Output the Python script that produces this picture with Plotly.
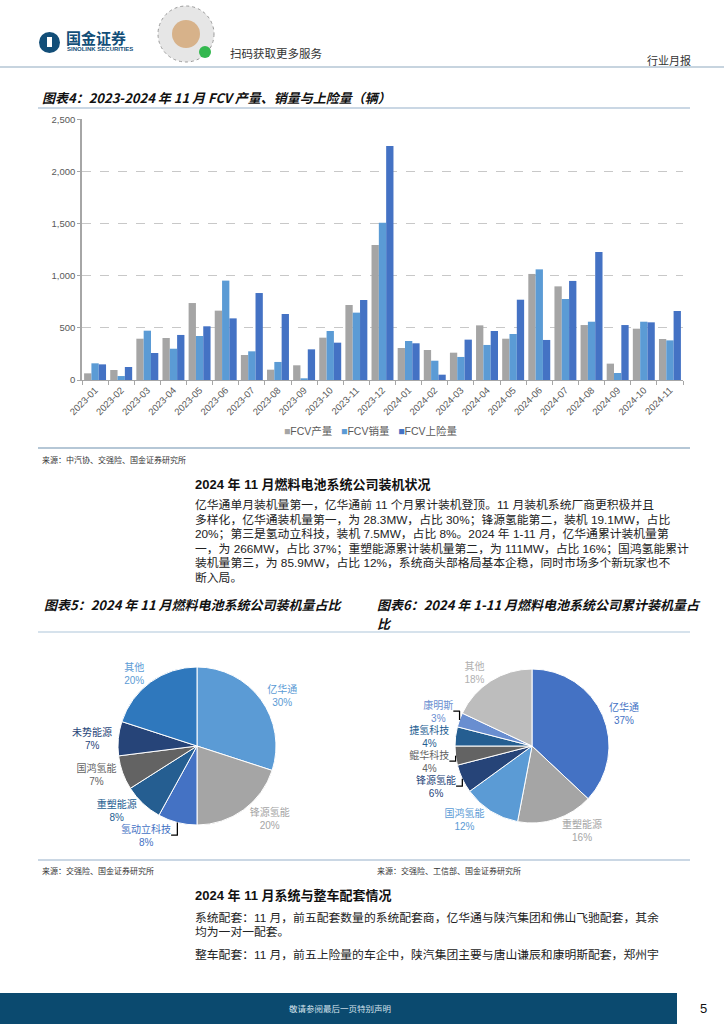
import plotly.graph_objects as go

W, H = 724, 1024


def px(x):
    return x / W


def py(y):
    return 1 - y / H


# ---------------- data ----------------
months = ['2023-01', '2023-02', '2023-03', '2023-04', '2023-05', '2023-06', '2023-07',
          '2023-08', '2023-09', '2023-10', '2023-11', '2023-12', '2024-01', '2024-02',
          '2024-03', '2024-04', '2024-05', '2024-06', '2024-07', '2024-08', '2024-09',
          '2024-10', '2024-11']
production = [64, 96, 396, 403, 738, 665, 240, 99, 141, 406, 719, 1295,
              307, 288, 262, 524, 396, 1017, 898, 527, 157, 492, 393]
sales = [160, 38, 473, 300, 422, 953, 275, 173, 10, 470, 646, 1509,
         374, 185, 221, 336, 441, 1061, 777, 559, 67, 559, 380]
insured = [150, 125, 259, 432, 515, 591, 834, 633, 294, 358, 767, 2244,
           352, 51, 387, 470, 770, 384, 950, 1228, 527, 553, 662]
series_names = ['FCV产量', 'FCV销量', 'FCV上险量']
series_colors = ['#A5A5A5', '#5B9BD5', '#4472C4']
y_ticks = [0, 500, 1000, 1500, 2000, 2500]

pie1_labels = ['亿华通', '锋源氢能', '氢动立科技', '重塑能源', '国鸿氢能', '未势能源', '其他']
pie1_values = [30, 20, 8, 8, 7, 7, 20]
pie1_colors = ['#5B9BD5', '#A5A5A5', '#4472C4', '#255E91', '#636363', '#264478', '#2F78BD']
pie1_text_colors = ['#5B9BD5', '#A5A5A5', '#4472C4', '#255E91', '#636363', '#264478', '#5B9BD5']

pie2_labels = ['亿华通', '重塑能源', '国鸿氢能', '锋源氢能', '鲲华科技', '捷氢科技', '康明斯', '其他']
pie2_values = [37, 16, 12, 6, 4, 4, 3, 18]
pie2_colors = ['#4472C4', '#A5A5A5', '#5B9BD5', '#264478', '#636363', '#255E91', '#698ED0', '#BDBDBD']
pie2_text_colors = ['#4472C4', '#A5A5A5', '#5B9BD5', '#264478', '#636363', '#255E91', '#698ED0', '#B0B0B0']

para1 = [
    '亿华通单月装机量第一，亿华通前 11 个月累计装机登顶。11 月装机系统厂商更积极并且',
    '多样化，亿华通装机量第一，为 28.3MW，占比 30%；锋源氢能第二，装机 19.1MW，占比',
    '20%；第三是氢动立科技，装机 7.5MW，占比 8%。2024 年 1-11 月，亿华通累计装机量第',
    '一，为 266MW，占比 37%；重塑能源累计装机量第二，为 111MW，占比 16%；国鸿氢能累计',
    '装机量第三，为 85.9MW，占比 12%，系统商头部格局基本企稳，同时市场多个新玩家也不',
    '断入局。',
]
para2 = [
    '系统配套：11 月，前五配套数量的系统配套商，亿华通与陕汽集团和佛山飞驰配套，其余',
    '均为一对一配套。',
]
para3 = [
    '整车配套：11 月，前五上险量的车企中，陕汽集团主要与唐山谦辰和康明斯配套，郑州宇',
]

CJK = 'Noto Sans CJK SC'
MIX = 'Liberation Sans, Noto Sans CJK SC'

fig = go.Figure()

# ---------------- bar chart ----------------
for name, vals, col in zip(series_names, [production, sales, insured], series_colors):
    fig.add_trace(go.Bar(x=months, y=vals, name=name, marker=dict(color=col, line=dict(width=0)),
                         showlegend=False, xaxis='x', yaxis='y'))

# ---------------- pies ----------------
c1x, c1y, r1 = 197, 746, 79
c2x, c2y, r2 = 532, 746, 77
fig.add_trace(go.Pie(labels=pie1_labels, values=pie1_values, sort=False, direction='clockwise',
                     rotation=0, marker=dict(colors=pie1_colors, line=dict(color='white', width=1)),
                     textposition='outside', texttemplate='%{label}<br>%{percent:.0%}',
                     outsidetextfont=dict(family=MIX, size=10, color=pie1_text_colors),
                     domain=dict(x=[px(c1x - r1), px(c1x + r1)], y=[py(c1y + r1), py(c1y - r1)]),
                     automargin=False, showlegend=False, hoverinfo='label+percent'))
fig.add_trace(go.Pie(labels=pie2_labels, values=pie2_values, sort=False, direction='clockwise',
                     rotation=0, marker=dict(colors=pie2_colors, line=dict(color='white', width=1)),
                     textposition='outside', texttemplate='%{label}<br>%{percent:.0%}',
                     outsidetextfont=dict(family=MIX, size=10, color=pie2_text_colors),
                     domain=dict(x=[px(c2x - r2), px(c2x + r2)], y=[py(c2y + r2), py(c2y - r2)]),
                     automargin=False, showlegend=False, hoverinfo='label+percent'))

ann = []
shapes = []


def text(x, y, s, size=12, color='#222', family=CJK, anchor='left', yanchor='middle'):
    ann.append(dict(x=px(x), y=py(y), xref='paper', yref='paper', text=s, showarrow=False,
                    xanchor=anchor, yanchor=yanchor, font=dict(size=size, color=color, family=family)))


def hline(x0, x1, y, color, width=1):
    shapes.append(dict(type='line', xref='paper', yref='paper', x0=px(x0), x1=px(x1),
                       y0=py(y), y1=py(y), line=dict(color=color, width=width)))


# ---------------- header ----------------
shapes.append(dict(type='circle', xref='paper', yref='paper', x0=px(39), x1=px(60),
                   y0=py(53), y1=py(32), fillcolor='#124E78', line=dict(width=0)))
shapes.append(dict(type='rect', xref='paper', yref='paper', x0=px(47), x1=px(52),
                   y0=py(47), y1=py(37), fillcolor='white', line=dict(width=0)))
text(64, 37, '<b>国金证券</b>', size=15, color='#124E78')
text(65, 49, '<b>SINOLINK SECURITIES</b>', size=6, color='#124E78', family='Liberation Sans')
# QR-like badge
shapes.append(dict(type='circle', xref='paper', yref='paper', x0=px(158), x1=px(214),
                   y0=py(62), y1=py(6), fillcolor='#E6E6E6', line=dict(color='#9A9A9A', width=1, dash='dot')))
shapes.append(dict(type='circle', xref='paper', yref='paper', x0=px(172), x1=px(200),
                   y0=py(48), y1=py(20), fillcolor='#D7B28A', line=dict(width=0)))
shapes.append(dict(type='circle', xref='paper', yref='paper', x0=px(199), x1=px(211),
                   y0=py(58), y1=py(46), fillcolor='#33B84F', line=dict(width=0)))
text(228, 53, '扫码获取更多服务', size=11.5, color='#333')
text(693, 60, '行业月报', size=11, color='#333', anchor='right')
hline(0, 724, 67, '#8FAABF', 1.2)

# ---------------- figure 4 ----------------
text(40, 97, '<b><i>图表4：2023-2024 年 11 月 FCV 产量、销量与上险量（辆）</i></b>', size=13, color='#111')
hline(38, 690, 108, '#B8CADB', 1.5)

legend_html = '   '.join(
    f'<span style="color:{c}">■</span>{n}' for n, c in zip(series_names, series_colors))
text(371, 431, legend_html, size=10.5, color='#595959', family=MIX, anchor='center')

hline(38, 690, 448, '#9CB4C9', 1.5)
text(40, 459, '来源：中汽协、交强险、国金证券研究所', size=8, color='#333')

text(193, 484, '<b>2024 年 11 月燃料电池系统公司装机状况</b>', size=13, color='#111', family=MIX)
for i, line in enumerate(para1):
    text(193, 505 + i * 14.6, line, size=11.8, color='#222', family=MIX)

# ---------------- figure 5 / 6 titles ----------------
text(42, 604, '<b><i>图表5：2024 年 11 月燃料电池系统公司装机量占比</i></b>', size=13, color='#111')
text(375, 604, '<b><i>图表6：2024 年 1-11 月燃料电池系统公司累计装机量占</i></b>', size=13, color='#111')
text(375, 623, '<b><i>比</i></b>', size=13, color='#111')
hline(38, 690, 632, '#C9D8E6', 1.5)

hline(38, 690, 860, '#B8CADB', 1.5)
text(40, 870, '来源：交强险、国金证券研究所', size=8, color='#333')
text(375, 870, '来源：交强险、工信部、国金证券研究所', size=8, color='#333')

text(193, 895, '<b>2024 年 11 月系统与整车配套情况</b>', size=13, color='#111', family=MIX)
for i, line in enumerate(para2):
    text(193, 918 + i * 13.5, line, size=11.8, color='#222', family=MIX)
for i, line in enumerate(para3):
    text(193, 955 + i * 13.5, line, size=11.8, color='#222', family=MIX)

# ---------------- footer ----------------
shapes.append(dict(type='rect', xref='paper', yref='paper', x0=0, x1=px(677),
                   y0=0, y1=py(993), fillcolor='#0B4A6F', line=dict(width=0)))
text(340, 1008, '敬请参阅最后一页特别声明', size=8.5, color='#D5E2EC', anchor='center')
text(703, 1008, '5', size=13, color='#111', family='Liberation Sans', anchor='center')

fig.update_layout(
    width=W, height=H, autosize=False,
    margin=dict(l=0, r=0, t=0, b=0, pad=0, autoexpand=False),
    paper_bgcolor='white', plot_bgcolor='white',
    barmode='group', bargap=0.16, bargroupgap=0,
    annotations=ann, shapes=shapes,
    xaxis=dict(domain=[px(82), px(683)], type='category', range=[-0.5, len(months) - 0.5],
               tickangle=-45, tickfont=dict(size=9.5, color='#595959', family=MIX),
               showline=True, linecolor='#A6A6A6', linewidth=1, automargin=False,
               ticks='outside', tickson='boundaries', ticklen=4, tickcolor='#A6A6A6',
               showgrid=False, anchor='y', fixedrange=True),
    yaxis=dict(domain=[py(380), py(119.3)], range=[0, 2500], tickvals=y_ticks,
               tickformat=',', tickfont=dict(size=9.5, color='#595959', family=MIX),
               showline=True, linecolor='#A6A6A6', linewidth=1.5, automargin=False,
               ticks='outside', ticklen=3, tickcolor='#A6A6A6',
               showgrid=True, gridcolor='#C8C8C8', griddash='dash', gridwidth=1,
               zeroline=False, anchor='x', fixedrange=True),
    showlegend=False,
)

fig.write_html('out.html', config={'displayModeBar': False},
               post_script="document.body.style.margin='0';document.body.style.overflow='hidden';")
